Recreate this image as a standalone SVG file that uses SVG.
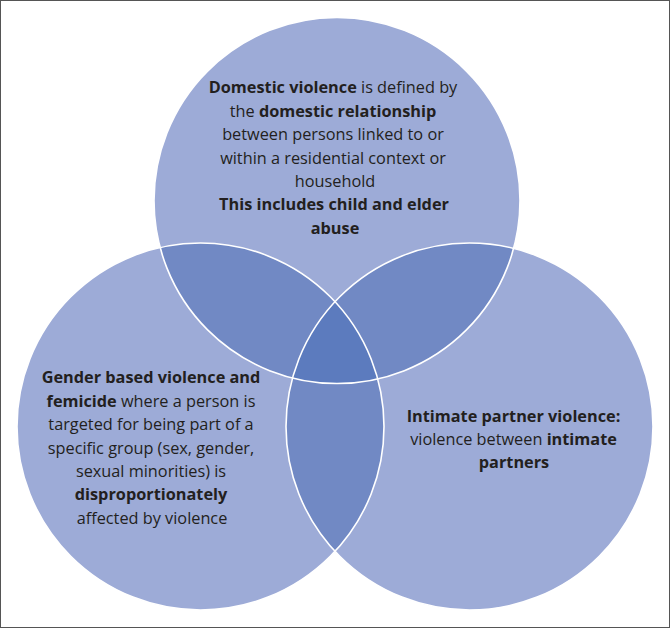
<svg xmlns="http://www.w3.org/2000/svg" width="670" height="628" viewBox="0 0 670 628">
<style>
.c{fill:#9DABD7}
.lens{fill:#7189C4}
.tri{fill:#5C7BBE}
.ol{fill:none;stroke:#fff;stroke-width:1.6}
text{font-family:"Open Sans","Liberation Sans",sans-serif;font-size:16.3px;fill:#231F20;text-anchor:middle}
.b{font-weight:bold}
</style>
<defs>
<clipPath id="cT"><circle cx="337" cy="200.5" r="183"/></clipPath>
<clipPath id="cL"><circle cx="200.5" cy="426.5" r="183.5"/></clipPath>
<clipPath id="cR"><circle cx="469.5" cy="426.5" r="183.5"/></clipPath>
</defs>
<rect x="0.5" y="0.5" width="669" height="627" fill="#fff" stroke="#555" stroke-width="1"/>
<g id="domestic">
<circle class="c" cx="337" cy="200.5" r="183"/>
</g>
<g id="gbv">
<circle class="c" cx="200.5" cy="426.5" r="183.5"/>
</g>
<g id="ipv">
<circle class="c" cx="469.5" cy="426.5" r="183.5"/>
</g>
<g id="overlaps">
<circle class="lens" cx="200.5" cy="426.5" r="183.5" clip-path="url(#cT)"/>
<circle class="lens" cx="469.5" cy="426.5" r="183.5" clip-path="url(#cT)"/>
<circle class="lens" cx="469.5" cy="426.5" r="183.5" clip-path="url(#cL)"/>
<g clip-path="url(#cT)"><circle class="tri" cx="469.5" cy="426.5" r="183.5" clip-path="url(#cL)"/></g>
</g>
<g id="outlines">
<circle class="ol" cx="337" cy="200.5" r="183"/>
<circle class="ol" cx="200.5" cy="426.5" r="183.5"/>
<circle class="ol" cx="469.5" cy="426.5" r="183.5"/>
</g>
<g id="domestic-label">
<text x="333" y="93"><tspan class="b">Domestic violence</tspan> is defined by</text>
<text x="333" y="116.5">the <tspan class="b">domestic relationship</tspan></text>
<text x="333" y="140">between persons linked to or</text>
<text x="333" y="163.5">within a residential context or</text>
<text x="335" y="187">household</text>
<text x="334" y="210" class="b">This includes child and elder</text>
<text x="335" y="233.5" class="b">abuse</text>
</g>
<g id="gbv-label">
<text x="151" y="383" class="b">Gender based violence and</text>
<text x="151" y="406.5"><tspan class="b">femicide</tspan> where a person is</text>
<text x="151" y="430">targeted for being part of a</text>
<text x="151" y="453.5">specific group (sex, gender,</text>
<text x="151" y="477">sexual minorities) is</text>
<text x="151" y="500" class="b">disproportionately</text>
<text x="152" y="523.5">affected by violence</text>
</g>
<g id="ipv-label">
<text x="513.5" y="422" class="b">Intimate partner violence:</text>
<text x="513.5" y="445">violence between <tspan class="b">intimate</tspan></text>
<text x="514" y="468" class="b">partners</text>
</g>
</svg>
